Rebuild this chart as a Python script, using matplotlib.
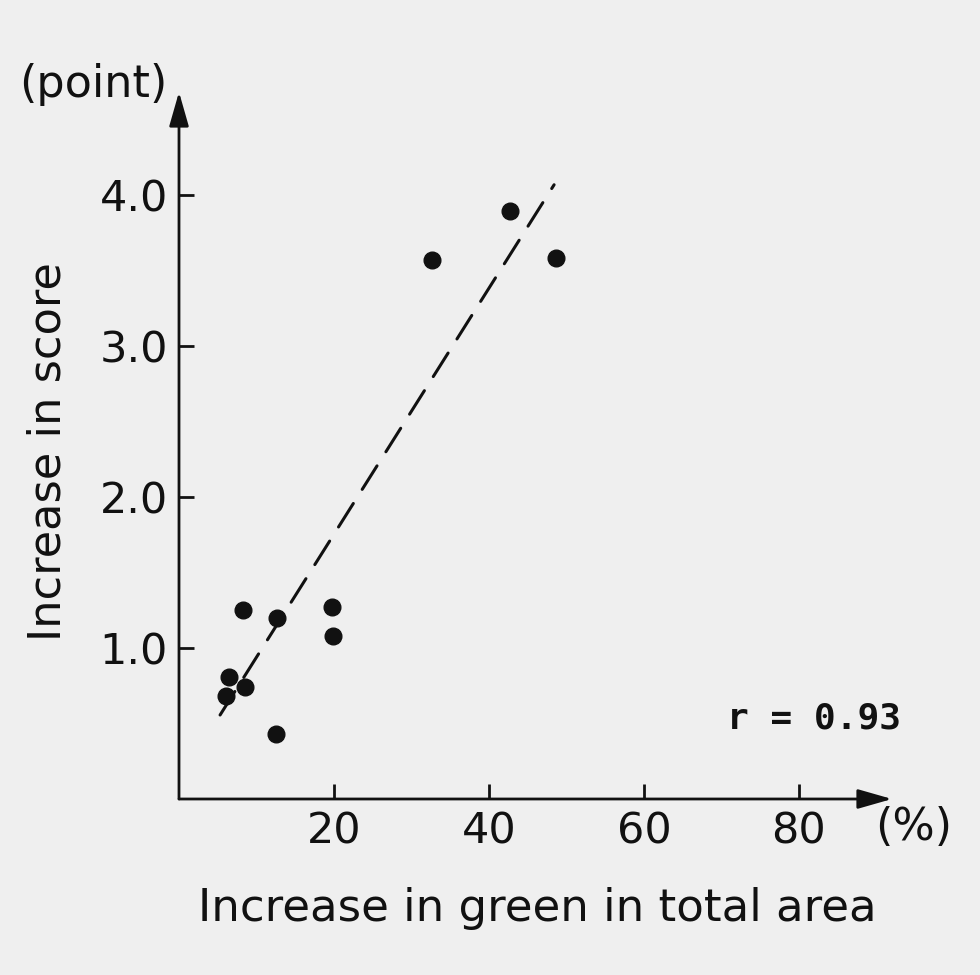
import matplotlib
matplotlib.use("Agg")
import matplotlib.pyplot as plt
import numpy as np

# data
green_increase = [6.0, 6.5, 8.5, 8.2, 12.6, 12.5, 19.7, 19.9, 32.6, 42.7, 48.6]
score_increase = [0.68, 0.81, 0.74, 1.25, 1.20, 0.43, 1.27, 1.08, 3.57, 3.89, 3.58]
fit_x = [5.3, 48.4]
fit_y = [0.556, 4.066]
x_ticks = [20, 40, 60, 80]
x_tick_labels = ["20", "40", "60", "80"]
y_ticks = [1.0, 2.0, 3.0, 4.0]
y_tick_labels = ["1.0", "2.0", "3.0", "4.0"]
r_text = "r = 0.93"

W, H = 980, 975
bg = "#efefef"
ink = "#111111"
FONT = "DejaVu Sans"

fig = plt.figure(figsize=(W / 100, H / 100), dpi=100, facecolor=bg)

x0_px, y0_px = 179, 799
x_tip_px, y_tip_px = 892, 92
xmax, ymax = 92, 4.68
ax = fig.add_axes([x0_px / W, 1 - y0_px / H, (x_tip_px - x0_px) / W, (y0_px - y_tip_px) / H])
ax.set_facecolor("none")
ax.set_xlim(0, xmax)
ax.set_ylim(0, ymax)
for s in ax.spines.values():
    s.set_visible(False)

# axes with arrow heads
arrow_kw = dict(arrowstyle="-|>,head_length=2.1,head_width=0.6", color=ink, lw=2.0,
                shrinkA=0, shrinkB=0, mutation_scale=10)
ax.annotate("", xy=(xmax, 0), xytext=(0, 0), arrowprops=arrow_kw, annotation_clip=False)
ax.annotate("", xy=(0, ymax), xytext=(0, 0), arrowprops=arrow_kw, annotation_clip=False)

ax.set_xticks(x_ticks)
ax.set_xticklabels(x_tick_labels, fontsize=31, fontfamily=FONT, color=ink)
ax.set_yticks(y_ticks)
ax.set_yticklabels(y_tick_labels, fontsize=31, fontfamily=FONT, color=ink)
ax.tick_params(direction="in", length=11, width=2, color=ink, pad=8)

lw = 2.2
ax.plot(fit_x, fit_y, color=ink, lw=lw, dashes=(20 / lw, 12 / lw),
        dash_capstyle="round", zorder=2)
ax.plot(green_increase, score_increase, "o", ms=12, color=ink, mec=ink, zorder=3)

ax.text(70.7, 0.53, r_text, fontsize=26, fontfamily="DejaVu Sans Mono", fontweight="bold",
        color=ink, ha="left", va="center")

fig.text(93 / W, 1 - 85 / H, "(point)", fontsize=32, fontfamily=FONT, color=ink,
         ha="center", va="center")
fig.text(914 / W, 1 - 828 / H, "(%)", fontsize=32, fontfamily=FONT, color=ink,
         ha="center", va="center")
fig.text(537 / W, 1 - 908 / H, "Increase in green in total area", fontsize=32.4,
         fontfamily=FONT, color=ink, ha="center", va="center")
fig.text(48 / W, 1 - 452 / H, "Increase in score", fontsize=32.2, fontfamily=FONT,
         color=ink, ha="center", va="center", rotation=90)

fig.savefig("out.png", dpi=100, facecolor=bg)
